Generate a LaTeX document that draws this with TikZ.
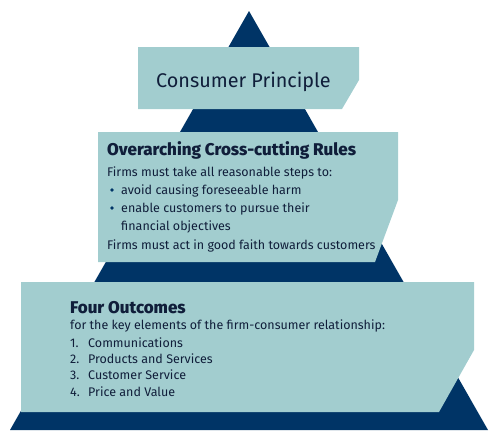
\documentclass[tikz,border=0pt]{standalone}
\usepackage{fontspec}
\setmainfont{Fira Sans}[BoldFont=* ExtraBold]
\usepackage{xcolor}
\usetikzlibrary{positioning}

\definecolor{pyrblue}{RGB}{0,52,102}
\definecolor{boxteal}{RGB}{162,205,207}
\definecolor{inkblue}{RGB}{16,30,58}

\tikzset{
  txt/.style={anchor=base west, inner sep=0pt, text=inkblue, font=\fontsize{12.5}{15}\selectfont},
  head/.style={txt, font=\fontsize{17}{20}\bfseries\selectfont},
  dot/.style={circle, fill=pyrblue, inner sep=0pt, minimum size=3.6pt}
}

\begin{document}
\begin{tikzpicture}[x=1pt, y=-1pt, line join=round]

    \useasboundingbox (0,0) rectangle (500,442);

    % Pyramid
    \fill[pyrblue] (249,11) -- (488,430) -- (10,430) -- cycle;

    % Top box
    \fill[boxteal] (138,47) -- (359,47) -- (359,80) -- (342,109) -- (138,109) -- cycle;

    % Middle box
    \fill[boxteal] (98,132) -- (398,132) -- (398,200) -- (375,262) -- (98,262) -- cycle;

    % Bottom box
    \fill[boxteal] (21,282) -- (474,282) -- (474,350) -- (439,412) -- (21,412) -- cycle;

    % Consumer Principle
    \node[txt, font=\fontsize{19.8}{24}\selectfont] (principle) at (156,87) {Consumer Principle};

    % Cross-cutting rules
    \node[head] (rules) at (107,155) {Overarching Cross-cutting Rules};
    \node[txt] (steps) at (107,176) {Firms must take all reasonable steps to:};
    \node[dot] (dotone) at (112,190) {};
    \node[txt] (harm) at (121,194) {avoid causing foreseeable harm};
    \node[dot] (dottwo) at (112,208) {};
    \node[txt] (pursue) at (121,212) {enable customers to pursue their};
    \node[txt] (objectives) at (121,230) {financial objectives};
    \node[txt] (faith) at (107,249) {Firms must act in good faith towards customers};

    % Four outcomes
    \node[head] (outcomes) at (70,313) {Four Outcomes};
    \node[txt] (elements) at (70,329) {for the key elements of the firm-consumer relationship:};
    \node[txt] (numone) at (70,347) {1.};
    \node[txt] (comms) at (88,347) {Communications};
    \node[txt] (numtwo) at (70,363) {2.};
    \node[txt] (products) at (88,363) {Products and Services};
    \node[txt] (numthree) at (70,379) {3.};
    \node[txt] (service) at (88,379) {Customer Service};
    \node[txt] (numfour) at (70,396) {4.};
    \node[txt] (value) at (88,396) {Price and Value};

  \end{tikzpicture}
\end{document}
